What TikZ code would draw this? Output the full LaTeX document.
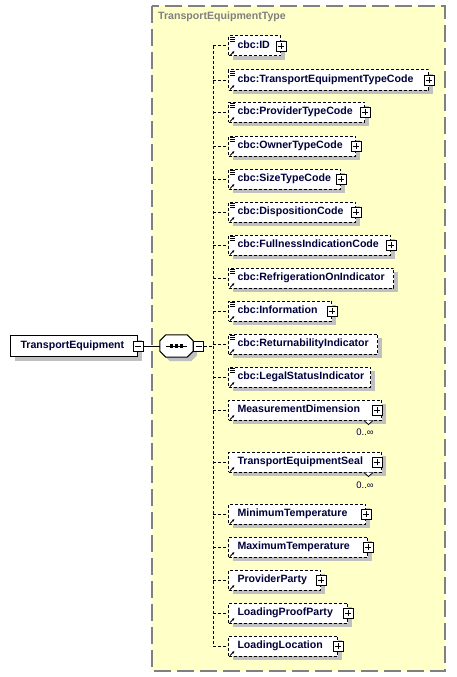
\documentclass[tikz,border=0pt]{standalone}
\usepackage{fontspec}
\setmainfont{Liberation Sans}
\usetikzlibrary{shadows,arrows.meta,calc}
\definecolor{tyfill}{HTML}{FFFFC8}
\definecolor{tyline}{HTML}{808080}
\definecolor{shgray}{HTML}{C0C0C0}
\definecolor{txt}{HTML}{00003C}
\newcommand\elab[2]{\makebox[#1pt][l]{\hspace{9pt}#2}}
\newcommand\refic[1]{\draw[line width=0.8pt,-{Latex[length=2.6pt,width=2.6pt]}] ([xshift=2pt,yshift=1pt]#1.south west) -- ([xshift=6.5pt,yshift=5.5pt]#1.south west);}
\newcommand\docic[1]{\foreach \d in {1.5,3.5,5.5} \draw[line width=0.8pt] ([xshift=2pt,yshift=-\d pt]#1.north west) -- ++(5pt,0pt);}
\newcommand\kid[4]{%
  \node[elem] (#1) at (228,#2) {\elab{#3}{#4}};
  \refic{#1}}
\begin{document}
\begin{tikzpicture}[x=1pt,y=-1pt,
  font=\fontsize{10.6}{12}\selectfont\bfseries,
  shadowed/.style={drop shadow={shadow xshift=4pt, shadow yshift=-4pt, fill=shgray, opacity=1, draw=none}},
  elem/.style={draw, dash pattern=on 3pt off 2pt, line width=1pt, fill=white, anchor=west,
    inner xsep=0pt, inner ysep=0pt, minimum height=20pt, text height=8pt, text depth=2.4pt, text=txt, shadowed},
  rootbox/.style={draw, solid, line width=1pt, fill=white, anchor=west,
    inner xsep=0pt, inner ysep=0pt, minimum height=21pt, text height=8pt, text depth=2.4pt, text=txt, shadowed},
  plusbox/.style={draw, solid, fill=white, line width=0.8pt, minimum size=10pt, inner sep=0pt,
    path picture={\draw[line width=0.8pt] ([xshift=2pt]path picture bounding box.west) -- ([xshift=-2pt]path picture bounding box.east)
      ([yshift=2pt]path picture bounding box.south) -- ([yshift=-2pt]path picture bounding box.north);}},
  minusbox/.style={draw, solid, fill=white, line width=0.8pt, minimum size=10pt, inner sep=0pt,
    path picture={\draw[line width=0.8pt] ([xshift=2pt]path picture bounding box.west) -- ([xshift=-2pt]path picture bounding box.east);}},
  conn/.style={line width=1pt, dash pattern=on 3pt off 2pt},
  mult/.style={font=\fontsize{9.5}{11}\selectfont, text=txt, inner sep=0pt}
]
\useasboundingbox (0,0) rectangle (457,677);
% type box
\draw[tyline, fill=tyfill, line width=1.3pt, dash pattern=on 17pt off 6pt] (152,6) rectangle (445,671);
\node[anchor=west, text=tyline, inner sep=0pt] (title) at (158,17) {TransportEquipmentType};

% root element
\node[rootbox] (root) at (10,346) {\makebox[127pt][l]{\hspace{10pt}TransportEquipment}};
\node[minusbox] (rootm) at (root.east) {};

% sequence compositor
\node[minimum width=33pt, minimum height=22pt, inner sep=0pt] (seq) at (176.5,346) {};
\begin{scope}[transform canvas={shift={(4pt,-4pt)}}]
\fill[shgray] ([xshift=6pt]seq.north west) -- ([xshift=-6pt]seq.north east) -- ([yshift=-6pt]seq.north east)
  -- ([yshift=6pt]seq.south east) -- ([xshift=-6pt]seq.south east) -- ([xshift=6pt]seq.south west)
  -- ([yshift=6pt]seq.south west) -- ([yshift=-6pt]seq.north west) -- cycle;
\end{scope}
\draw[line width=1pt, fill=white] ([xshift=6pt]seq.north west) -- ([xshift=-6pt]seq.north east) -- ([yshift=-6pt]seq.north east)
  -- ([yshift=6pt]seq.south east) -- ([xshift=-6pt]seq.south east) -- ([xshift=6pt]seq.south west)
  -- ([yshift=6pt]seq.south west) -- ([yshift=-6pt]seq.north west) -- cycle;
\draw[line width=1pt] ([xshift=-10.5pt]seq.center) -- ([xshift=10.5pt]seq.center);
\foreach \dx in {-5,0,5} \fill ([xshift=\dx pt]seq.center) +(-1.6pt,-1.6pt) rectangle +(1.6pt,1.6pt);
\node[minusbox, anchor=west] (seqm) at (seq.east) {};
\draw[line width=1pt] (rootm.east) -- (seq.west);
\coordinate (bus) at (213,346);

% children
\kid{id}{46}{52}{cbc:ID}
\kid{tetc}{80}{200}{cbc:TransportEquipmentTypeCode}
\kid{ptc}{112}{136}{cbc:ProviderTypeCode}
\kid{otc}{146}{127}{cbc:OwnerTypeCode}
\kid{stc}{179}{112}{cbc:SizeTypeCode}
\kid{dc}{212}{127}{cbc:DispositionCode}
\kid{fic}{245}{162}{cbc:FullnessIndicationCode}
\kid{roi}{278}{165}{cbc:RefrigerationOnIndicator}
\kid{info}{311}{103}{cbc:Information}
\kid{ri}{344}{149}{cbc:ReturnabilityIndicator}
\kid{lsi}{377}{142}{cbc:LegalStatusIndicator}
\kid{md}{410}{153}{MeasurementDimension}
\kid{tes}{462}{153}{TransportEquipmentSeal}
\kid{mint}{514}{137}{MinimumTemperature}
\kid{maxt}{547}{139}{MaximumTemperature}
\kid{pp}{580}{92}{ProviderParty}
\kid{lpp}{613}{119}{LoadingProofParty}
\kid{ll}{646}{109}{LoadingLocation}

\foreach \n in {id,tetc,ptc,otc,stc,dc,fic,roi,info,ri,lsi} {\docic{\n}}
\foreach \n in {id,tetc,ptc,otc,stc,dc,fic,info,mint,maxt,pp,lpp,ll} {\node[plusbox] (\n-plus) at (\n.east) {};}
\foreach \n in {md,tes} {
  \node[plusbox] (\n-plus) at ([xshift=-5pt]\n.east) {};
  \draw[line width=0.8pt, fill=white] ([xshift=-18pt]\n.south east) -- ++(4.5pt,-4pt) -- ++(4.5pt,4pt);
}
\node[mult] (md-mult) at (365,432) {0..∞};
\node[mult] (tes-mult) at (365,485) {0..∞};

% connectors
\draw[conn] (seqm.east) -- (bus);
\draw[conn] (bus |- id.west) -- (bus |- ll.west);
\foreach \n in {id,tetc,ptc,otc,stc,dc,fic,roi,info,ri,lsi,md,tes,mint,maxt,pp,lpp,ll}
  {\draw[conn] (bus |- \n.west) -- (\n.west);}
\end{tikzpicture}
\end{document}
